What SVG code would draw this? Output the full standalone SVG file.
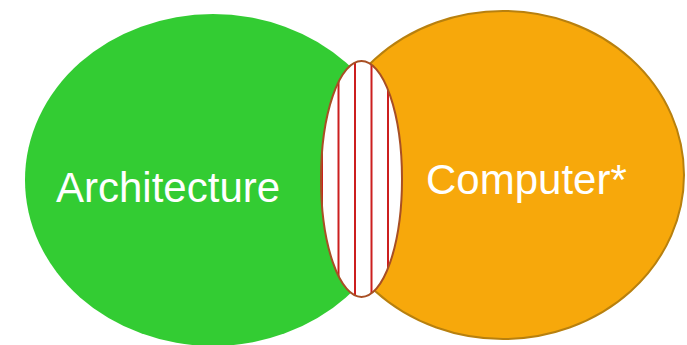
<svg xmlns="http://www.w3.org/2000/svg" width="687" height="345" viewBox="0 0 687 345">
  <style>
    .label { font-family: "Liberation Sans", Arial, sans-serif; font-size: 42px; fill: #ffffff; }
    .stripe { stroke: #cc1f1f; stroke-width: 2; }
  </style>
  <defs>
    <clipPath id="lensClip">
      <ellipse cx="361.5" cy="179" rx="40.5" ry="118"/>
    </clipPath>
  </defs>
  <rect width="687" height="345" fill="#ffffff"/>
  <g id="node-architecture">
    <ellipse cx="213" cy="180" rx="188" ry="166" fill="#33cc33"/>
    <text class="label" x="56" y="202">Architecture</text>
  </g>
  <g id="node-computer">
    <ellipse cx="503" cy="175" rx="181" ry="164" fill="#f7a80b" stroke="#b8800e" stroke-width="2"/>
    <text class="label" x="426" y="194">Computer*</text>
  </g>
  <g id="node-intersection">
    <ellipse cx="361.5" cy="179" rx="40.5" ry="118" fill="#ffffff"/>
    <g clip-path="url(#lensClip)">
      <line class="stripe" x1="322" y1="50" x2="322" y2="310"/>
      <line class="stripe" x1="338.5" y1="50" x2="338.5" y2="310"/>
      <line class="stripe" x1="355" y1="50" x2="355" y2="310"/>
      <line class="stripe" x1="371.5" y1="50" x2="371.5" y2="310"/>
      <line class="stripe" x1="388" y1="50" x2="388" y2="310"/>
    </g>
    <ellipse cx="361.5" cy="179" rx="40.5" ry="118" fill="none" stroke="#a84f24" stroke-width="2"/>
  </g>
  <g id="connectors"/>
</svg>
